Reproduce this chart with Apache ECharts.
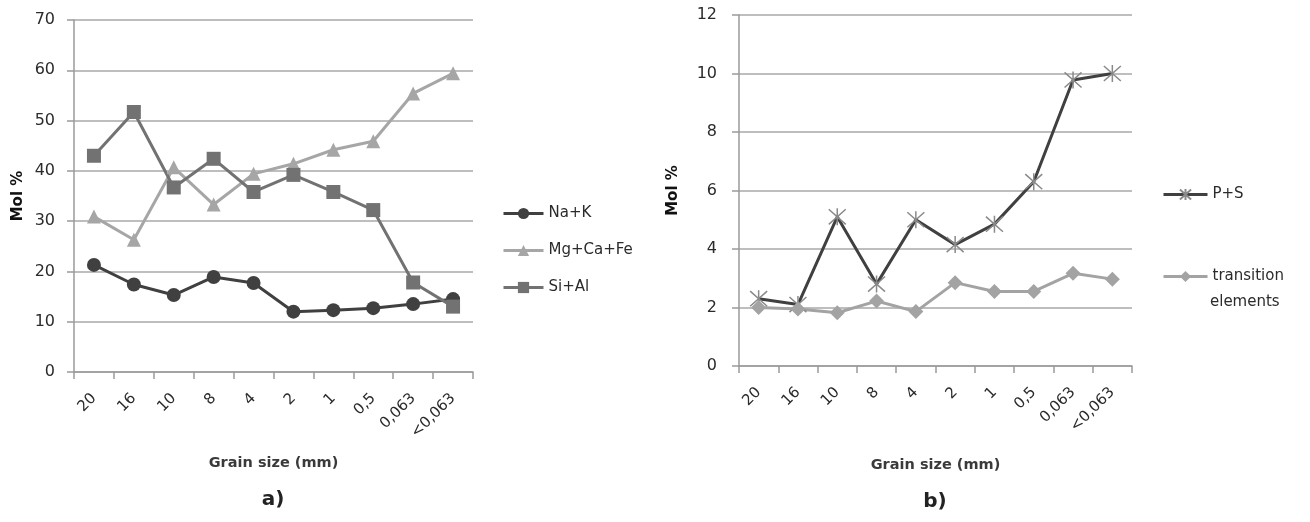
<!DOCTYPE html>
<html>
<head>
<meta charset="utf-8">
<script src="https://cdn.jsdelivr.net/npm/echarts@6/dist/echarts.min.js"></script>
<style>
html,body{margin:0;padding:0;background:#fff;}
#c{width:1310px;height:522px;}
</style>
</head>
<body>
<div id="c"></div>
<script>
const categories = ['20', '16', '10', '8', '4', '2', '1', '0,5', '0,063', '<0,063'];
const naK = [21.3, 17.4, 15.3, 18.9, 17.7, 12.0, 12.3, 12.7, 13.5, 14.5];
const mgCaFe = [30.9, 26.3, 40.7, 33.3, 39.4, 41.4, 44.2, 45.9, 55.4, 59.4];
const siAl = [43.0, 51.7, 36.7, 42.4, 35.8, 39.2, 35.8, 32.2, 17.8, 13.0];
const pS = [2.3, 2.1, 5.1, 2.8, 5.0, 4.15, 4.85, 6.3, 9.78, 10.0];
const transition = [2.0, 1.95, 1.82, 2.22, 1.86, 2.85, 2.55, 2.55, 3.17, 2.97];
const leftTicks = {min: 0, max: 70, interval: 10};
const rightTicks = {min: 0, max: 12, interval: 2};

const FONT = 'DejaVu Sans';
const txt = '#2b2b2b';
const gridCol = '#a9a9a9';
const axisCol = '#9a9a9a';

function xAxis(gridIndex, nameGap) {
  return {
    type: 'category', gridIndex, data: categories, boundaryGap: true,
    name: 'Grain size (mm)', nameLocation: 'middle', nameGap,
    nameTextStyle: {fontFamily: FONT, fontSize: 14.5, fontWeight: 'bold', color: '#3a3a3a'},
    axisLine: {lineStyle: {color: axisCol, width: 1.5}},
    axisTick: {show: true, length: 7, lineStyle: {color: axisCol, width: 1.5}},
    axisLabel: {rotate: 45, margin: 24, fontFamily: FONT, fontSize: 15, color: txt, interval: 0},
    splitLine: {show: false}
  };
}
function yAxis(gridIndex, ticks, nameGap, margin) {
  return {
    type: 'value', gridIndex, min: ticks.min, max: ticks.max, interval: ticks.interval,
    name: 'Mol %', nameLocation: 'middle', nameGap, nameRotate: 90,
    nameTextStyle: {fontFamily: FONT, fontSize: 15, fontWeight: 'bold', color: '#111'},
    axisLine: {show: true, lineStyle: {color: axisCol, width: 1.5}},
    axisTick: {show: true, length: 7, lineStyle: {color: axisCol, width: 1.5}},
    axisLabel: {margin, fontFamily: FONT, fontSize: 16, color: txt},
    splitLine: {show: true, lineStyle: {color: gridCol, width: 1.5}}
  };
}
function lineSeries(name, data, xi, color, symbol, size, extra) {
  return Object.assign({
    name, type: 'line', data, xAxisIndex: xi, yAxisIndex: xi,
    symbol, symbolSize: size, showSymbol: true,
    lineStyle: {color, width: 3},
    itemStyle: {color},
    animation: false, z: 3
  }, extra || {});
}

const star = 'path://M0,0L16,16M16,0L0,16M8,-1L8,17';

const chart = echarts.init(document.getElementById('c'), null, {renderer: 'canvas'});
chart.setOption({
  animation: false,
  backgroundColor: '#ffffff',
  grid: [
    {left: 74, top: 20, width: 399, height: 352},
    {left: 739, top: 15, width: 393, height: 351}
  ],
  xAxis: [xAxis(0, 84), xAxis(1, 92)],
  yAxis: [yAxis(0, leftTicks, 48, 19), yAxis(1, rightTicks, 58, 22)],
  legend: [
    {
      orient: 'vertical', left: 497, top: 201, itemWidth: 40, itemHeight: 14, itemGap: 22,
      data: ['Na+K', 'Mg+Ca+Fe', 'Si+Al'],
      lineStyle: {width: 3},
      textStyle: {fontFamily: FONT, fontSize: 15, color: txt}
    },
    {
      orient: 'vertical', left: 1157, top: 182, itemWidth: 44, itemHeight: 14, itemGap: 67,
      data: ['P+S', 'transition elements'],
      lineStyle: {width: 3},
      formatter: function (n) { return n === 'transition elements' ? 'transition' : n; },
      textStyle: {fontFamily: FONT, fontSize: 15, color: txt}
    }
  ],
  graphic: [
    {type: 'text', left: 1210, top: 295, style: {text: 'elements', font: '15px "DejaVu Sans"', fill: txt}},
    {type: 'text', x: 273, y: 500, style: {text: 'a)', font: 'bold 20px "DejaVu Sans"', fill: '#222', textAlign: 'center', textVerticalAlign: 'middle'}},
    {type: 'text', x: 935, y: 502, style: {text: 'b)', font: 'bold 20px "DejaVu Sans"', fill: '#222', textAlign: 'center', textVerticalAlign: 'middle'}}
  ],
  series: [
    lineSeries('Na+K', naK, 0, '#404040', 'circle', 14),
    lineSeries('Mg+Ca+Fe', mgCaFe, 0, '#a6a6a6', 'triangle', 14),
    lineSeries('Si+Al', siAl, 0, '#727272', 'rect', 14),
    lineSeries('P+S', pS, 1, '#404040', star, 17, {
      itemStyle: {color: 'rgba(0,0,0,0)', borderColor: '#8a8a8a', borderWidth: 1.5}
    }),
    lineSeries('transition elements', transition, 1, '#a3a3a3', 'diamond', 15)
  ]
});
</script>
</body>
</html>
